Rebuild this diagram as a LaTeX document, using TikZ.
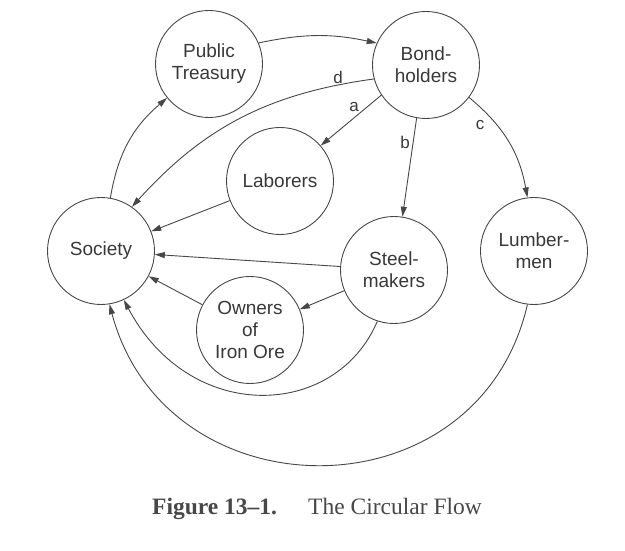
\documentclass[tikz,border=0pt]{standalone}
\usepackage{fontspec}
\setmainfont{Liberation Serif}
\newfontfamily\arialfont{Liberation Sans}
\usetikzlibrary{arrows.meta}
\begin{document}
\begin{tikzpicture}[x=1pt,y=1pt,
  flowcircle/.style={circle, draw=black!72, line width=0.9pt, minimum size=107pt, inner sep=0pt, align=center, text=black!78, font=\arialfont\fontsize{19}{22}\selectfont},
  flow/.style={draw=black!72, line width=0.9pt, -{Triangle[length=10pt,width=6pt]}},
  lbl/.style={text=black!78, font=\arialfont\fontsize{17}{20}\selectfont, inner sep=0pt},
  captionbold/.style={text=black!72, font=\fontsize{23.5}{26}\selectfont\bfseries, inner sep=0pt, anchor=base west},
  captiontext/.style={text=black!72, font=\fontsize{23.5}{26}\selectfont, inner sep=0pt, anchor=base west}
]
\useasboundingbox (0,0) rectangle (625,550);

\node[flowcircle] (PT) at (209,486) {Public\\Treasury};
\node[flowcircle] (BH) at (426,485) {Bond-\\holders};
\node[flowcircle] (LA) at (280,369) {Laborers};
\node[flowcircle] (SO) at (101,299) {Society};
\node[flowcircle] (ST) at (394,280) {Steel-\\makers};
\node[flowcircle] (LU) at (534,299) {Lumber-\\men};
\node[flowcircle] (OW) at (250,220) {Owners\\of\\Iron Ore};

\draw[flow] (SO.80) to[bend left=20] (PT.-141);
\draw[flow] (PT.23) to[bend left=12] (BH.156);
\draw[flow] (BH.195) to[bend right=20] (SO.55);
\draw[flow] (BH.214) -- (LA.41);
\draw[flow] (BH.260) -- (ST.81);
\draw[flow] (BH.-37) to[bend left=20] (LU.97);
\draw[flow] (LA) -- (SO);
\draw[flow] (ST) -- (SO);
\draw[flow] (ST) -- (OW);
\draw[flow] (OW) -- (SO);
\draw[flow] (ST.-108) to[out=-113,in=-62,out looseness=1.07,in looseness=1.43] (SO.-65);
\draw[flow] (LU.-97) to[out=-103,in=-75,looseness=1.35] (SO.-81);

\node[lbl] (lbd) at (338,473) {d};
\node[lbl] (lba) at (354,443) {a};
\node[lbl] (lbb) at (405,408) {b};
\node[lbl] (lbc) at (480,425) {c};

\node[captionbold] (capA) at (152,35) {Figure 13–1.};
\node[captiontext] (capB) at (308,35) {The Circular Flow};
\end{tikzpicture}
\end{document}
